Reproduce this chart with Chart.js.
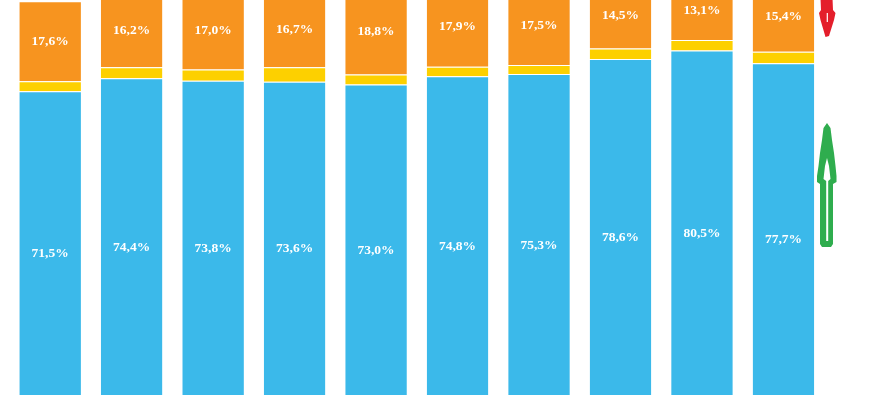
<!DOCTYPE html>
<html>
<head>
<meta charset="utf-8">
<script src="https://cdn.jsdelivr.net/npm/chart.js@4"></script>
<style>
  html, body { margin: 0; padding: 0; background: #ffffff; }
  #wrap { position: relative; width: 890px; height: 395px; }
</style>
</head>
<body>
<div id="wrap"><canvas id="c"></canvas></div>
<script>
const categories = ['1', '2', '3', '4', '5', '6', '7', '8', '9', '10'];
const blueValues = [71.5, 74.4, 73.8, 73.6, 73.0, 74.8, 75.3, 78.6, 80.5, 77.7];
const yellowValues = [2.2, 2.4, 2.5, 3.2, 2.2, 2.1, 2.0, 2.3, 2.3, 2.5];
const orangeValues = [17.6, 16.2, 17.0, 16.7, 18.8, 17.9, 17.5, 14.5, 13.1, 15.4];

const fmt = v => v.toFixed(1).replace('.', ',') + '%';

const labelPlugin = {
  id: 'segLabels',
  afterDatasetsDraw(chart) {
    const ctx = chart.ctx;
    ctx.save();
    ctx.font = 'bold 13.5px "Liberation Serif", "Times New Roman", serif';
    ctx.fillStyle = '#ffffff';
    ctx.textAlign = 'center';
    ctx.textBaseline = 'middle';
    chart.data.datasets.forEach((ds, di) => {
      if (!ds.showLabels) return;
      const meta = chart.getDatasetMeta(di);
      meta.data.forEach((el, i) => {
        const y = (el.y + el.base) / 2;
        ctx.fillText(fmt(ds.data[i]), el.x, y);
      });
    });
    ctx.restore();
  }
};

const arrowPlugin = {
  id: 'arrows',
  afterDraw(chart) {
    const ctx = chart.ctx;
    const cx = chart.chartArea.right + 2.8;
    ctx.save();
    // red downward arrow (partly cut at top)
    ctx.fillStyle = '#e41e2b';
    ctx.beginPath();
    ctx.moveTo(cx - 6.5, -2);
    ctx.lineTo(cx + 5.5, -2);
    ctx.lineTo(cx + 6, 10);
    ctx.lineTo(cx + 8.5, 13);
    ctx.lineTo(cx + 7, 20);
    ctx.lineTo(cx + 2, 36);
    ctx.lineTo(cx - 1.5, 37);
    ctx.lineTo(cx - 6.5, 20);
    ctx.lineTo(cx - 8, 13);
    ctx.lineTo(cx - 6, 10);
    ctx.closePath();
    ctx.fill();
    ctx.strokeStyle = '#ffffff';
    ctx.lineWidth = 1.2;
    ctx.beginPath();
    ctx.moveTo(cx + 0.3, 13);
    ctx.lineTo(cx + 0.3, 22);
    ctx.stroke();

    // green upward arrow (outlined look)
    ctx.fillStyle = '#2fad4e';
    ctx.beginPath();
    ctx.moveTo(cx, 123);
    ctx.lineTo(cx + 3.5, 128);
    ctx.lineTo(cx + 5, 140);
    ctx.lineTo(cx + 7, 153);
    ctx.lineTo(cx + 8.5, 166);
    ctx.lineTo(cx + 9.5, 176);
    ctx.lineTo(cx + 9.5, 182);
    ctx.lineTo(cx + 6, 184);
    ctx.lineTo(cx + 6, 244);
    ctx.lineTo(cx + 4, 247);
    ctx.lineTo(cx - 5, 247);
    ctx.lineTo(cx - 7, 244);
    ctx.lineTo(cx - 7, 184);
    ctx.lineTo(cx - 10, 182);
    ctx.lineTo(cx - 10, 176);
    ctx.lineTo(cx - 8.5, 166);
    ctx.lineTo(cx - 7, 153);
    ctx.lineTo(cx - 5, 140);
    ctx.lineTo(cx - 3.5, 128);
    ctx.closePath();
    ctx.fill();
    ctx.fillStyle = '#ffffff';
    ctx.beginPath();
    ctx.moveTo(cx, 158);
    ctx.lineTo(cx + 2, 166);
    ctx.lineTo(cx + 3.5, 179);
    ctx.lineTo(cx + 1.2, 181);
    ctx.lineTo(cx + 1.2, 241);
    ctx.lineTo(cx - 0.8, 241);
    ctx.lineTo(cx - 0.8, 181);
    ctx.lineTo(cx - 3.5, 179);
    ctx.lineTo(cx - 2, 166);
    ctx.closePath();
    ctx.fill();
    ctx.restore();
  }
};

const segBorder = { top: 1, right: 0, bottom: 0, left: 0 };

new Chart(document.getElementById('c'), {
  type: 'bar',
  data: {
    labels: categories,
    datasets: [
      { label: 'blue', data: blueValues, backgroundColor: '#3bb9ea', borderColor: 'rgba(255,255,255,0.55)', borderWidth: segBorder, borderSkipped: false, showLabels: true },
      { label: 'yellow', data: yellowValues, backgroundColor: '#fdd000', borderColor: 'rgba(255,255,255,0.55)', borderWidth: segBorder, borderSkipped: false, showLabels: false },
      { label: 'orange', data: orangeValues, backgroundColor: '#f7941f', borderColor: 'rgba(255,255,255,0.55)', borderWidth: segBorder, borderSkipped: false, showLabels: true }
    ]
  },
  options: {
    responsive: true,
    maintainAspectRatio: false,
    animation: false,
    layout: { padding: { left: 9.4, right: 65.8, top: 0, bottom: 0 } },
    datasets: { bar: { barPercentage: 0.756, categoryPercentage: 1.0 } },
    plugins: { legend: { display: false }, tooltip: { enabled: false } },
    scales: {
      x: { stacked: true, display: false, offset: true },
      y: { stacked: true, display: false, min: 4.64, max: 91.6 }
    }
  },
  plugins: [labelPlugin, arrowPlugin]
});
</script>
</body>
</html>
